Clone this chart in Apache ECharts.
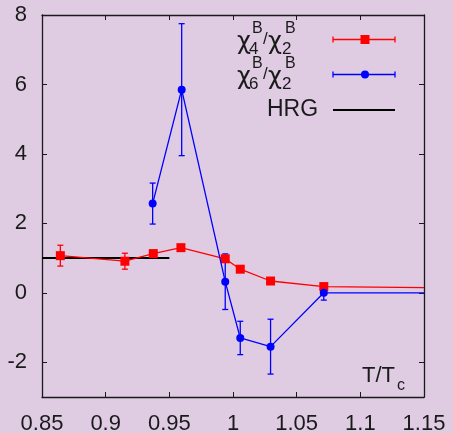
<!DOCTYPE html>
<html>
<head>
<meta charset="utf-8">
<script src="https://cdn.jsdelivr.net/npm/echarts@6/dist/echarts.min.js"></script>
<style>
    html, body { margin: 0; padding: 0; background: #dfcce3; }
    #chart { width: 453px; height: 433px; }
</style>
</head>
<body>
<div id="chart"></div>
<script>
// chi4/chi2 (red squares)
var chi4X = [0.8644, 0.9151, 0.9374, 0.9591, 0.9939, 1.0057, 1.0295, 1.0713]
var chi4Y = [1.07, 0.91, 1.13, 1.30, 0.98, 0.68, 0.34, 0.18]
var chi4Err = [0.30, 0.23, 0.05, 0.05, 0.05, 0.06, 0.05, 0.05]
var chi4Tail = [1.15, 0.15]

// chi6/chi2 (blue circles)
var chi6X = [0.9369, 0.9597, 0.9939, 1.0057, 1.0295, 1.0713]
var chi6Y = [2.57, 5.85, 0.32, -1.30, -1.55, 0.0]
var chi6Err = [0.59, 1.90, 0.80, 0.48, 0.79, 0.21]
var chi6Tail = [1.15, 0.0]

// hadron resonance gas value
var hrgX = [0.85, 0.95]
var hrgY = [1, 1]

var xTicks = [0.85, 0.9, 0.95, 1, 1.05, 1.1, 1.15]
var yTicks = [-2, 0, 2, 4, 6, 8]

var FONT = 'Liberation Sans'
var INK = '#1a1a1a'

function pairs ( xs, ys ) {
    return xs.map( function ( x, i ) { return [x, ys[i]] } )
}

function lineData ( xs, ys, tail ) {
    var d = pairs( xs, ys )
    d.push( { value: tail, symbol: 'none' } )
    return d
}

function errorBars ( xs, ys, errs, color ) {
    var data = xs.map( function ( x, i ) { return [x, ys[i] - errs[i], ys[i] + errs[i]] } )
    return {
        type: 'custom',
        silent: true,
        encode: { x: 0, y: [1, 2] },
        data: data,
        renderItem: function ( params, api ) {
            var lo = api.coord( [api.value( 0 ), api.value( 1 )] )
            var hi = api.coord( [api.value( 0 ), api.value( 2 )] )
            var w = 3
            var st = { stroke: color, lineWidth: 1.3 }
            return {
                type: 'group',
                children: [
                    { type: 'line', shape: { x1: lo[0], y1: lo[1], x2: hi[0], y2: hi[1] }, style: st },
                    { type: 'line', shape: { x1: lo[0] - w, y1: lo[1], x2: lo[0] + w, y2: lo[1] }, style: st },
                    { type: 'line', shape: { x1: hi[0] - w, y1: hi[1], x2: hi[0] + w, y2: hi[1] }, style: st }
                ]
            }
        }
    }
}

function axisX ( pos, labels ) {
    return {
        type: 'value',
        position: pos,
        min: 0.85,
        max: 1.15,
        axisLine: { show: true, onZero: false, lineStyle: { color: INK, width: 1.3 } },
        axisTick: { show: true, inside: true, length: 5, customValues: xTicks, lineStyle: { color: INK, width: 1 } },
        axisLabel: {
            show: labels,
            customValues: xTicks,
            margin: 16,
            color: INK,
            fontFamily: FONT,
            fontSize: 22
        },
        splitLine: { show: false }
    }
}

function axisY ( pos, labels ) {
    return {
        type: 'value',
        position: pos,
        min: -3,
        max: 8,
        axisLine: { show: true, onZero: false, lineStyle: { color: INK, width: 1.3 } },
        axisTick: { show: true, inside: true, length: 5, customValues: yTicks, lineStyle: { color: INK, width: 1 } },
        axisLabel: {
            show: labels,
            customValues: yTicks,
            margin: 15,
            color: INK,
            fontFamily: FONT,
            fontSize: 22
        },
        splitLine: { show: false }
    }
}

function txt ( s, x, y, size, family ) {
    return {
        type: 'text',
        x: x,
        y: y,
        style: { text: s, fill: INK, font: size + 'px "' + ( family || FONT ) + '"', verticalAlign: 'middle' }
    }
}

// chi_n^B / chi_2^B label, stacked sup/sub
function ratioLabel ( n, x, y ) {
    return [
        txt( 'χ', x, y + 1, 24, 'DejaVu Sans' ),
        txt( n, x + 12, y + 7, 17 ),
        txt( 'B', x + 15, y - 13, 16 ),
        txt( '/', x + 26, y - 3, 17 ),
        txt( 'χ', x + 31, y + 1, 24, 'DejaVu Sans' ),
        txt( '2', x + 45, y + 7, 17 ),
        txt( 'B', x + 48, y - 13, 16 )
    ]
}

function legendSample ( y, color, symbol ) {
    var st = { stroke: color, lineWidth: 1.3 }
    var items = [
        { type: 'line', shape: { x1: 333, y1: y, x2: 395, y2: y }, style: st },
        { type: 'line', shape: { x1: 333, y1: y - 3, x2: 333, y2: y + 3 }, style: st },
        { type: 'line', shape: { x1: 395, y1: y - 3, x2: 395, y2: y + 3 }, style: st }
    ]
    if ( symbol === 'rect' ) {
        items.push( { type: 'rect', shape: { x: 360.5, y: y - 4.5, width: 9, height: 9 }, style: { fill: color } } )
    } else {
        items.push( { type: 'circle', shape: { cx: 365, cy: y, r: 4 }, style: { fill: color } } )
    }
    return items
}

var graphics = []
    .concat( ratioLabel( '4', 237, 42 ) )
    .concat( ratioLabel( '6', 237, 77 ) )
    .concat( legendSample( 39.5, '#ff0000', 'rect' ) )
    .concat( legendSample( 74.5, '#0000ff', 'circle' ) )
    .concat( [
        txt( 'HRG', 267, 110, 23 ),
        { type: 'line', shape: { x1: 333, y1: 110, x2: 395, y2: 110 }, style: { stroke: '#000', lineWidth: 2 } },
        txt( 'T/T', 362, 376, 22 ),
        txt( 'c', 397, 386, 16 )
    ] )

var config = {
    backgroundColor: '#dfcce3',
    animation: false,
    grid: { left: 42, right: 29, top: 15, bottom: 36, outerBoundsMode: 'none' },
    xAxis: [axisX( 'bottom', true ), axisX( 'top', false )],
    yAxis: [axisY( 'left', true ), axisY( 'right', false )],
    graphic: graphics,
    series: [
        {
            name: 'HRG',
            type: 'line',
            data: pairs( hrgX, hrgY ),
            symbol: 'none',
            lineStyle: { color: '#000', width: 2 },
            z: 3
        },
        errorBars( chi4X, chi4Y, chi4Err, '#ff0000' ),
        {
            name: 'chi4',
            type: 'line',
            data: lineData( chi4X, chi4Y, chi4Tail ),
            symbol: 'rect',
            symbolSize: 9,
            itemStyle: { color: '#ff0000' },
            lineStyle: { color: '#ff0000', width: 1.3 },
            z: 4
        },
        errorBars( chi6X, chi6Y, chi6Err, '#0000ff' ),
        {
            name: 'chi6',
            type: 'line',
            data: lineData( chi6X, chi6Y, chi6Tail ),
            symbol: 'circle',
            symbolSize: 8,
            itemStyle: { color: '#0000ff' },
            lineStyle: { color: '#0000ff', width: 1.3 },
            z: 5
        }
    ]
}

var Chart = echarts.init( document.getElementById( 'chart' ) )
Chart.setOption( config )
</script>
</body>
</html>
